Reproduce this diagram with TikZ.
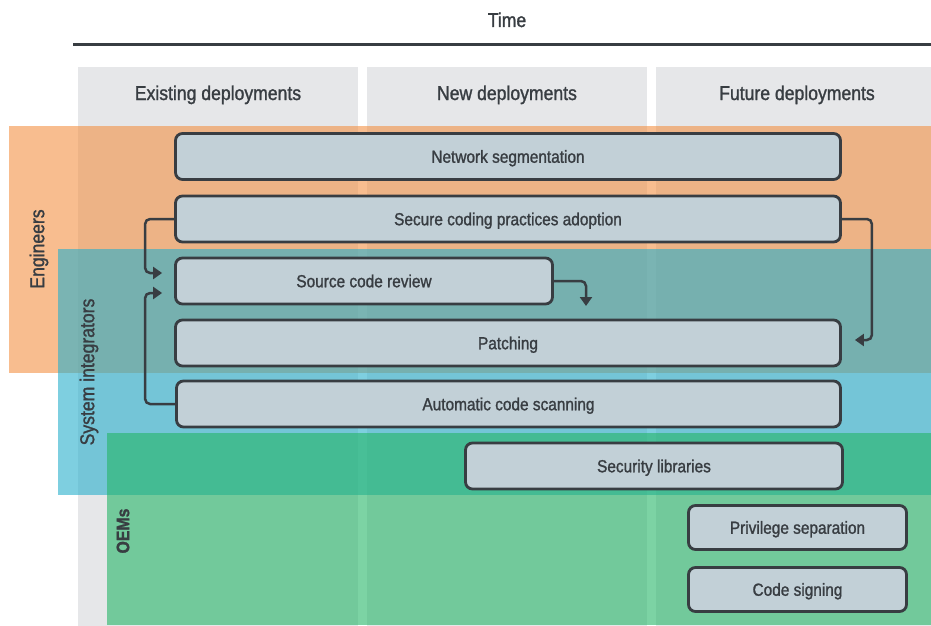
\documentclass[tikz,border=0pt]{standalone}
\usepackage{fontspec}
\setmainfont{Liberation Sans}[FakeStretch=0.88,FakeBold=1.3]
\usetikzlibrary{arrows.meta}
\definecolor{colgray}{RGB}{230,231,233}
\definecolor{engorange}{RGB}{243,145,68}
\definecolor{siblue}{RGB}{40,175,203}
\definecolor{oemgreen}{RGB}{37,181,103}
\definecolor{boxfill}{RGB}{194,208,215}
\definecolor{ink}{RGB}{56,61,66}
\begin{document}
\begin{tikzpicture}[x=1pt,y=-1pt,
      box/.style={draw=ink,line width=2.8pt,fill=boxfill,rounded corners=7pt,text=ink,
                  font=\fontsize{17.5}{20}\selectfont,inner sep=0pt,minimum height=46pt,
                  text height=12.5pt,text depth=0pt},
      band/.style={text=ink,rotate=90,font=\fontsize{20}{24}\selectfont},
      head/.style={text=ink,font=\fontsize{20}{24}\selectfont,text height=14pt,text depth=0pt},
      flow/.style={draw=ink,line width=2.5pt,rounded corners=5pt,-{Triangle[width=12pt,length=9pt]}}]
   \useasboundingbox (0,0) rectangle (931,626);
   % time axis
   \node[head] (time) at (507,20) {Time};
   \draw[ink,line width=3pt] (73,45) -- (931,45);
   % columns
   \fill[colgray] (78,67) rectangle (358,626);
   \fill[colgray] (367,67) rectangle (647,626);
   \fill[colgray] (656,67) rectangle (931,626);
   \node[head] (existing) at (218,93) {Existing deployments};
   \node[head] (new) at (507,93) {New deployments};
   \node[head] (future) at (797,93) {Future deployments};
   % actor bands
   \fill[engorange,opacity=.6] (9,126) rectangle (931,373);
   \fill[siblue,opacity=.6] (58,249) rectangle (931,495);
   \fill[oemgreen,opacity=.6] (107,433) rectangle (931,625);
   \node[band] (engineers) at (39,249) {Engineers};
   \node[band] (integrators) at (89,372) {System integrators};
   \node[band,font=\fontsize{18}{20}\bfseries] (oems) at (123,531) {OEMs};
   % practices
   \node[box,minimum width=665pt] (netseg) at (508,156.5) {Network segmentation};
   \node[box,minimum width=665pt] (secure) at (508,219) {Secure coding practices adoption};
   \node[box,minimum width=377pt] (review) at (364,281) {Source code review};
   \node[box,minimum width=665pt] (patch) at (508,343) {Patching};
   \node[box,minimum width=664pt] (scan) at (508.5,404) {Automatic code scanning};
   \node[box,minimum width=377pt] (seclib) at (654,466) {Security libraries};
   \node[box,minimum width=218pt,minimum height=44pt] (privsep) at (797.5,527.5) {Privilege separation};
   \node[box,minimum width=218pt,minimum height=44pt] (signing) at (797.5,589.5) {Code signing};
   % links
   \coordinate (reviewdrop) at (586,306);
   \draw[flow,shorten >=12pt] (secure.west) -- ++(-29,0) |- ([yshift=8pt]review.west);
   \draw[flow,shorten >=12pt] (scan.west) -- ++(-30,0) |- ([yshift=-12pt]review.west);
   \draw[flow] (review.east) -| (reviewdrop);
   \draw[flow,shorten >=13pt] (secure.east) -- ++(30,0) |- ([yshift=3pt]patch.east);
\end{tikzpicture}
\end{document}
